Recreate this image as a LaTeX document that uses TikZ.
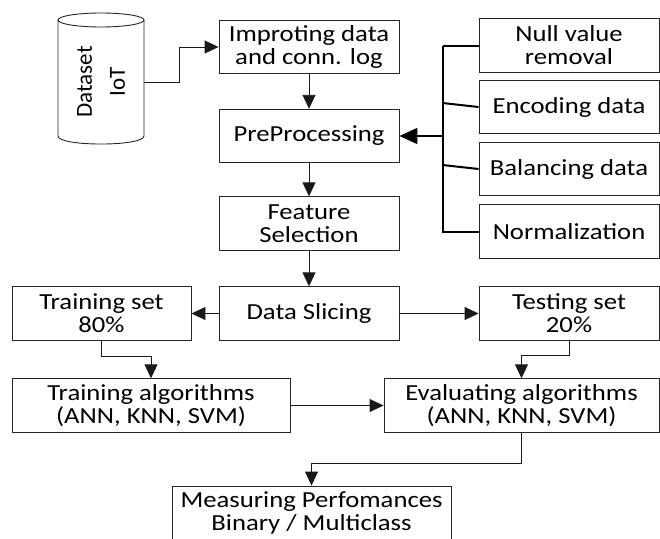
\documentclass[tikz,border=0pt]{standalone}
\usepackage{fontspec}
\setmainfont{Carlito}[FakeStretch=1.16]
\newfontfamily\rotfont{Carlito}
\usetikzlibrary{arrows.meta,calc}
\begin{document}
\begin{tikzpicture}[x=1pt,y=-1pt,
  box/.style={draw=black!85, line width=0.9pt, align=center, inner sep=0pt,
    font=\fontsize{23}{23}\selectfont},
  wbox/.style={box, minimum width=180pt, minimum height=53.5pt},
  arr/.style={-{Triangle[length=14pt,width=13pt]}, line width=0.9pt, draw=black!90},
  brk/.style={line width=2pt, draw=black},
  barr/.style={brk, -{Triangle[length=18pt,width=16pt]}},
  cyl/.style={line width=0.9pt, draw=black!85}
]
\useasboundingbox (0,0) rectangle (660,538);
\clip (0,0) rectangle (660,538);

% cylinder
\draw[cyl] (101,20) ellipse[x radius=43, y radius=7];
\draw[cyl] (58,20) -- (58,136) .. controls (58,146.7) and (144,146.7) .. (144,136) -- (144,20);
\node[rotate=90, align=center, font=\rotfont\fontsize{23}{33}\selectfont] (ds) at (101,82) {Dataset\\IoT};
\coordinate (cylE) at (144,82);

% main column
\node[wbox] (imp) at (309,47) {Improting data\\and conn. log};
\node[wbox] (pre) at (309,136) {PreProcessing};
\node[wbox] (feat) at (309,223.5) {Feature\\Selection};
\node[wbox] (slice) at (309,313.5) {Data Slicing};

% right column
\node[wbox] (null) at (569,45.5) {Null value\\removal};
\node[wbox] (enc) at (569,107) {Encoding data};
\node[wbox] (bal) at (569,169) {Balancing data};
\node[wbox] (norm) at (569,231.5) {Normalization};

% sets
\node[box, minimum width=179pt, minimum height=53.5pt] (trs) at (101.5,313.5) {Training set\\80\%};
\node[wbox] (tes) at (569,313.5) {Testing set\\20\%};

% algorithms
\node[box, minimum width=278pt, minimum height=53.5pt] (tra) at (151,405.5) {Training algorithms\\(ANN, KNN, SVM)};
\node[box, minimum width=275pt, minimum height=53.5pt] (eva) at (521.5,405.5) {Evaluating algorithms\\(ANN, KNN, SVM)};
\node[box, minimum width=279pt, minimum height=54pt] (mea) at (311.5,513) {Measuring Perfomances\\Binary / Multiclass};

% connectors
\draw[arr] (cylE) -- ++(35,0) |- (imp.west);
\draw[arr] (imp.south) -- (pre.north);
\draw[arr] (pre.south) -- (feat.north);
\draw[arr] (feat.south) -- (slice.north);
\draw[arr] (slice.west) -- (trs.east);
\draw[arr] (slice.east) -- (tes.west);
\draw[arr] (trs.south) -- ++(0,16) -| (tra.north);
\draw[arr] (tes.south) -- ++(0,15) -| (eva.north);
\draw[arr] (tra.east) -- (eva.west);
\draw[arr] (eva.south) -- ++(0,31) -| (mea.north);

% bracket
\draw[brk] (null.west) -- ++(-36,0) coordinate (bkt);
\draw[brk] (bkt) -- (bkt |- norm.west) -- (norm.west);
\draw[brk] (enc.west) -- ($(bkt |- enc.west)+(0,-4)$);
\draw[brk] (bal.west) -- ($(bkt |- bal.west)+(0,-4)$);
\draw[barr] (bkt |- pre.east) -- (pre.east);
\end{tikzpicture}
\end{document}
